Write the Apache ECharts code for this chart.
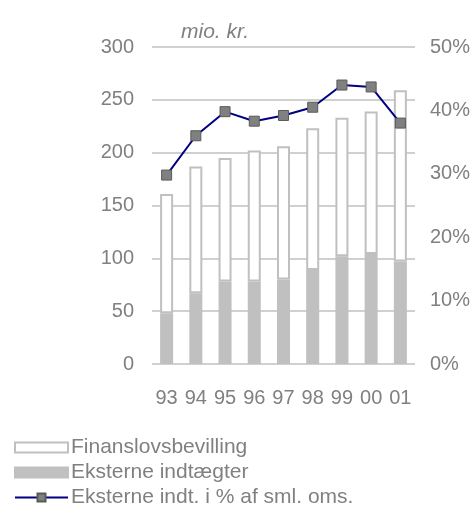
<!DOCTYPE html>
<html>
<head>
<meta charset="utf-8">
<script src="https://cdn.jsdelivr.net/npm/echarts@6/dist/echarts.min.js"></script>
<style>
  html, body { margin: 0; padding: 0; background: #fff; }
  #chart { width: 473px; height: 506px; }
</style>
</head>
<body>
<div id="chart"></div>
<script>
// aar
const years = ['93', '94', '95', '96', '97', '98', '99', '00', '01']
// mio. kr.
const eksterne = [48, 67, 78, 78, 80, 89, 102, 104, 97]
const finanslov = [113, 120, 117, 124, 126, 134, 131, 135, 162]
// procent
const andel = [29.8, 36.0, 39.8, 38.3, 39.2, 40.5, 44.0, 43.7, 38.0]

const grey = '#808080'
const font = 'Liberation Sans, Arial, sans-serif'

const chart = echarts.init(document.getElementById('chart'))
const option = {
  animation: false,
  textStyle: { fontFamily: font },
  title: {
    text: 'mio. kr.',
    left: 176,
    top: 17,
    textStyle: { fontStyle: 'italic', fontWeight: 'normal', fontSize: 21, color: grey, fontFamily: font }
  },
  legend: {
    orient: 'vertical',
    left: 9,
    top: 432,
    height: 80,
    width: 460,
    itemWidth: 53,
    itemHeight: 10,
    itemGap: 4,
    textStyle: { fontSize: 21, color: grey, fontFamily: font, padding: [0, 0, 0, -2] },
    data: [
      { name: 'Finanslovsbevilling', icon: 'rect' },
      { name: 'Eksterne indtægter', icon: 'rect' },
      { name: 'Eksterne indt. i % af sml. oms.' }
    ]
  },
  grid: { left: 152, right: 58, top: 47, bottom: 142 },
  xAxis: {
    type: 'category',
    data: years,
    axisLine: { show: false },
    axisTick: { show: false },
    axisLabel: { fontSize: 20, color: grey, margin: 24, fontFamily: font }
  },
  yAxis: [
    {
      type: 'value',
      min: 0,
      max: 300,
      interval: 50,
      axisLine: { show: false },
      axisTick: { show: false },
      axisLabel: { fontSize: 20, color: grey, margin: 18, fontFamily: font },
      splitLine: { lineStyle: { color: '#c0c0c0', width: 1.5 } }
    },
    {
      type: 'value',
      min: 0,
      max: 50,
      interval: 10,
      axisLine: { show: false },
      axisTick: { show: false },
      axisLabel: { fontSize: 20, color: grey, margin: 15, formatter: '{value}%', fontFamily: font },
      splitLine: { show: false }
    }
  ],
  series: [
    {
      name: 'Eksterne indtægter',
      type: 'bar',
      stack: 'tot',
      barWidth: 13,
      itemStyle: { color: '#c0c0c0', borderColor: '#c0c0c0', borderWidth: 2 },
      data: eksterne
    },
    {
      name: 'Finanslovsbevilling',
      type: 'bar',
      stack: 'tot',
      barWidth: 13,
      itemStyle: { color: '#ffffff', borderColor: '#c0c0c0', borderWidth: 2 },
      data: finanslov
    },
    {
      name: 'Eksterne indt. i % af sml. oms.',
      type: 'line',
      yAxisIndex: 1,
      symbol: 'rect',
      symbolSize: 10,
      lineStyle: { color: '#000080', width: 2 },
      itemStyle: { color: grey, borderColor: '#5a5a5a', borderWidth: 1 },
      data: andel
    }
  ]
}
chart.setOption(option)
</script>
</body>
</html>
